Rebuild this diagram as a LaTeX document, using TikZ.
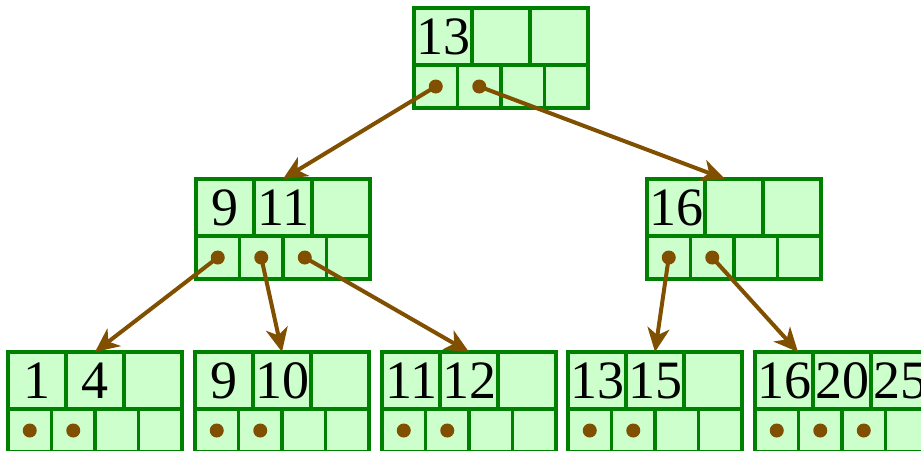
\documentclass[tikz,border=0pt]{standalone}
\usepackage{fontspec}
\setmainfont{Liberation Serif}
\usetikzlibrary{arrows.meta,calc}
\definecolor{cellfill}{RGB}{204,255,204}
\definecolor{cellline}{RGB}{0,128,0}
\definecolor{ptrbrown}{RGB}{128,80,0}
\tikzset{
  keycell/.style={draw=cellline, fill=cellfill, line width=1.9pt, minimum width=29pt, minimum height=28.5pt, inner sep=0pt, outer sep=0pt, font=\fontsize{27}{29}\selectfont},
  ptrcell/.style={draw=cellline, fill=cellfill, line width=1.9pt, minimum width=21.75pt, minimum height=21.5pt, inner sep=0pt, outer sep=0pt},
  link/.style={draw=ptrbrown, line width=2pt, -{Stealth[length=12pt,width=11pt,inset=3.5pt]}},
}
% tree node: name, left, top, keys, used pointers
\newcommand{\treenode}[5]{%
  \foreach \k [count=\i from 0] in {#4}
    \node[keycell] (#1-k\i) at (#2+29+58*\i,#3+28.5) {\k};
  \foreach \j in {0,...,3}
    \node[ptrcell] (#1-p\j) at (#2+21.75+43.5*\j,#3+78.5) {};
  \foreach \j in {#5}
    \fill[ptrbrown] (#1-p\j) circle (3.5pt);
}
\begin{document}
\begin{tikzpicture}[x=0.5pt,y=-0.5pt]
  \useasboundingbox (0,0) rectangle (921,450);
  \clip (0,0) rectangle (921,450);
  \treenode{root}{414}{8}{13,{},{}}{0,1}
  \treenode{mid1}{196}{179}{9,11,{}}{0,1,2}
  \treenode{mid2}{647}{179}{16,{},{}}{0,1}
  \treenode{leaf1}{8}{352}{1,4,{}}{0,1}
  \treenode{leaf2}{195}{352}{9,10,{}}{0,1}
  \treenode{leaf3}{382}{352}{11,12,{}}{0,1}
  \treenode{leaf4}{568}{352}{13,15,{}}{0,1}
  \treenode{leaf5}{755}{352}{16,20,25}{0,1,2}
  % pointers to the children
  \draw[link] (root-p0.center) -- (mid1-k1.north);
  \draw[link] (root-p1.center) -- ($(mid2-k1.north)+(-9,0)$);
  \draw[link] (mid1-p0.center) -- (leaf1-k1.north);
  \draw[link] (mid1-p1.center) -- (leaf2-k1.north);
  \draw[link] (mid1-p2.center) -- (leaf3-k1.north);
  \draw[link] (mid2-p0.center) -- (leaf4-k1.north);
  \draw[link] (mid2-p1.center) -- ($(leaf5-k0.north)+(14,0)$);
\end{tikzpicture}
\end{document}
